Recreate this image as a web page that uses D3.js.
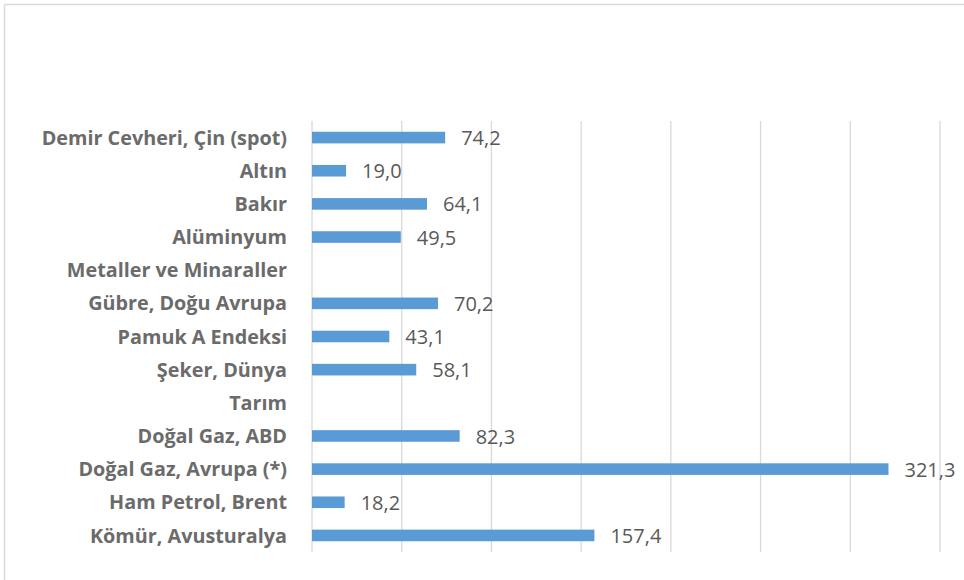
<!DOCTYPE html>
<html>
<head>
<meta charset="utf-8">
<script src="https://cdn.jsdelivr.net/npm/d3@7"></script>
<style>
  html, body { margin: 0; padding: 0; background: #fff; }
  svg { display: block; }
</style>
</head>
<body>
<svg id="chart" width="964" height="580"></svg>
<script>
// Categories top to bottom; section headers carry no value
const categories = [
  "Demir Cevheri, Çin (spot)",
  "Altın",
  "Bakır",
  "Alüminyum",
  "Metaller ve Minaraller",
  "Gübre, Doğu Avrupa",
  "Pamuk A Endeksi",
  "Şeker, Dünya",
  "Tarım",
  "Doğal Gaz, ABD",
  "Doğal Gaz, Avrupa (*)",
  "Ham Petrol, Brent",
  "Kömür, Avusturalya"
];
const values = [74.2, 19.0, 64.1, 49.5, null, 70.2, 43.1, 58.1, null, 82.3, 321.3, 18.2, 157.4];
const xTicks = [0, 50, 100, 150, 200, 250, 300, 350];

const svg = d3.select("#chart");
const margin = { left: 312, right: 24, top: 121, bottom: 28 };
const W = 964, H = 580;

// Chart frame (top and left edges)
svg.append("line").attr("x1", 4.5).attr("x2", W).attr("y1", 4.5).attr("y2", 4.5)
  .attr("stroke", "#d9d9d9").attr("stroke-width", 1.5);
svg.append("line").attr("x1", 4.5).attr("x2", 4.5).attr("y1", 4.5).attr("y2", H)
  .attr("stroke", "#d9d9d9").attr("stroke-width", 1.5);

const x = d3.scaleLinear().domain([0, 350]).range([margin.left, 940]);
const y = d3.scaleBand().domain(categories).range([margin.top, H - margin.bottom]).paddingInner(0.65).paddingOuter(0.325);

// Vertical gridlines
svg.append("g").selectAll("line").data(xTicks).join("line")
  .attr("x1", d => x(d)).attr("x2", d => x(d))
  .attr("y1", margin.top).attr("y2", H - margin.bottom)
  .attr("stroke", "#d9d9d9").attr("stroke-width", 1.3);

// Category axis labels
const yAxis = d3.axisLeft(y).tickSize(0).tickPadding(25);
const gy = svg.append("g").attr("transform", `translate(${margin.left},0)`).call(yAxis);
gy.select(".domain").remove();
gy.selectAll("text")
  .attr("font-family", "'Open Sans', sans-serif")
  .attr("font-weight", "bold")
  .attr("font-size", 19.8)
  .attr("fill", "#6b6b6b")
  .attr("dy", "0.36em");

const rows = categories.map((c, i) => ({ c, v: values[i] })).filter(d => d.v !== null);

// Bars
svg.append("g").selectAll("rect").data(rows).join("rect")
  .attr("x", x(0))
  .attr("y", d => y(d.c))
  .attr("width", d => x(d.v) - x(0))
  .attr("height", y.bandwidth())
  .attr("fill", "#5b9bd5");

// Value labels
const fmt = v => v.toFixed(1).replace(".", ",");
svg.append("g").selectAll("text").data(rows).join("text")
  .attr("x", d => x(d.v) + 16)
  .attr("y", d => y(d.c) + y.bandwidth() / 2)
  .attr("dy", "0.38em")
  .attr("font-family", "'Open Sans', sans-serif")
  .attr("font-size", 20)
  .attr("fill", "#595959")
  .text(d => fmt(d.v));
</script>
</body>
</html>
